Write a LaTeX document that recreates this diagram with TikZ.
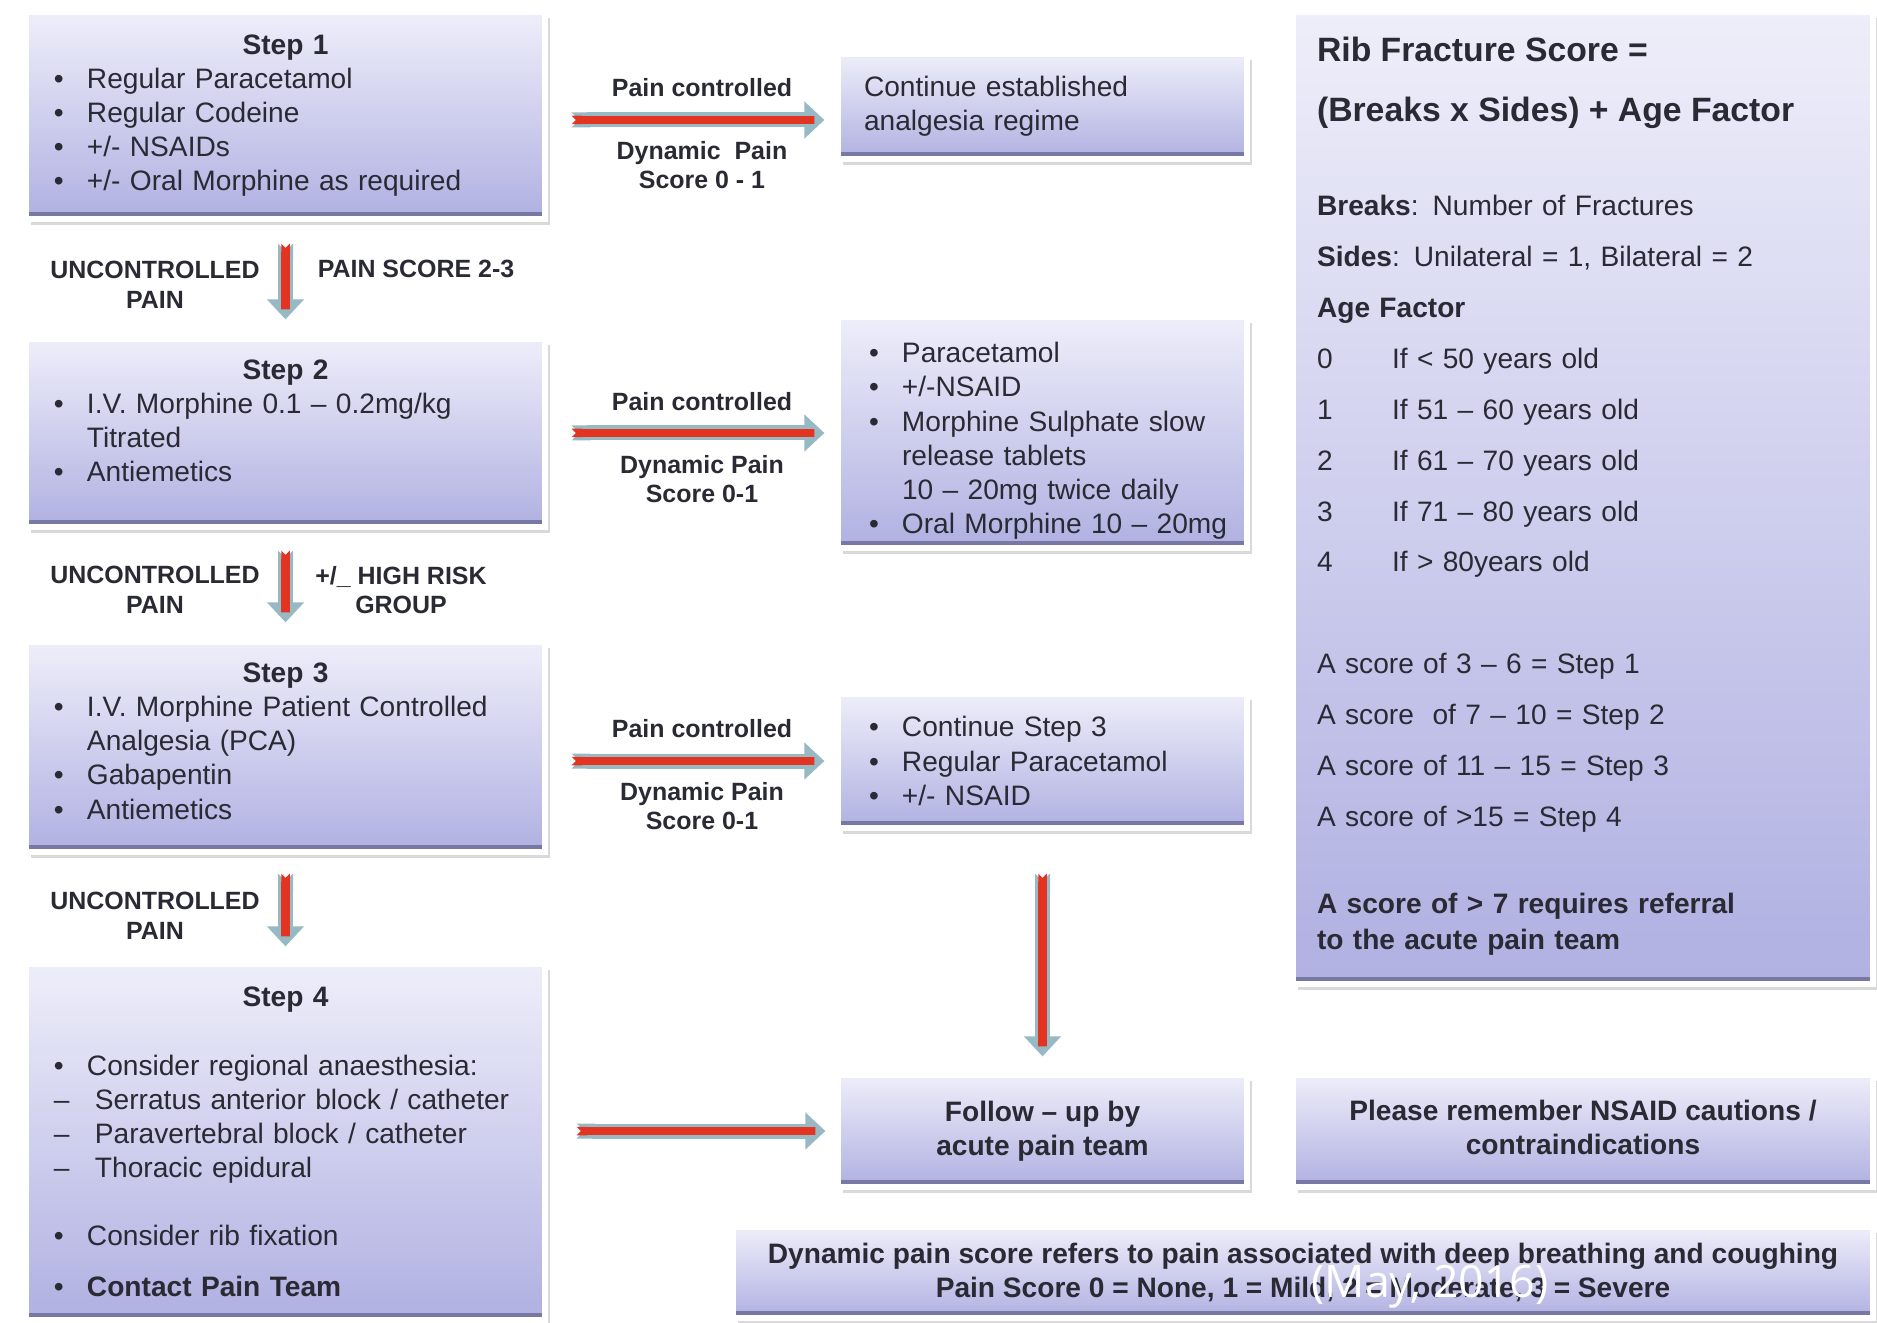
\documentclass[tikz,border=0pt]{standalone}
\usepackage{fontspec}
\setmainfont{Liberation Sans}
\newfontfamily\capfont{Open Sans}
\usetikzlibrary{arrows.meta,shadows}

\definecolor{boxtop}{RGB}{238,238,250}
\definecolor{boxbot}{RGB}{176,176,226}
\definecolor{boxedge}{RGB}{120,120,165}
\definecolor{flowedge}{RGB}{150,185,196}
\definecolor{flowred}{RGB}{226,52,32}
\definecolor{ink}{RGB}{42,42,52}

\newcommand\bodyfont{\fontsize{8}{9.7}\selectfont}
\newcommand\labelfont{\fontsize{7.1}{8.4}\selectfont\bfseries}
\newcommand\ribtitle{\fontsize{9.6}{14.5}\selectfont\bfseries}
\newcommand\bul{\makebox[3.3mm][l]{\textbullet}}
\newcommand\dsh{\makebox[4.1mm][l]{–}}
\newcommand\ind{\hspace*{3.3mm}}
\newcommand\lift[1]{\rule[-#1]{0pt}{#1}}
\newcommand\drop[1]{\rule{0pt}{#1}}
\newcommand\steptitle[1]{\makebox[\hsize]{\bfseries #1}}
\newcommand\agerow[2]{\makebox[7.5mm][l]{#1}#2}

\tikzset{
  box/.style={rectangle, draw=white, line width=1.5pt, text=ink,
    top color=boxtop, bottom color=boxbot,
    drop shadow={shadow xshift=0.5mm, shadow yshift=-0.6mm, opacity=0.3},
    path picture={\fill[boxedge] (path picture bounding box.south west)
      rectangle ([yshift=0.7mm]path picture bounding box.south east);}},
  stepbox/.style={box, font=\bodyfont, align=left, text width=46.3mm,
    inner xsep=2.8mm, inner ysep=0pt},
  midbox/.style={box, font=\bodyfont, align=left, text width=34.7mm,
    inner xsep=3.1mm, inner ysep=0pt},
  boldbox/.style={box, font=\bodyfont\bfseries, align=center, inner sep=0pt},
  flowlabel/.style={font=\labelfont, align=center, text=ink},
  flow/.style={draw=flowedge, line width=1.5mm,
    {Triangle Cap[reversed]}-{Triangle[length=2mm, width=3.6mm]},
    postaction={draw=flowred, line width=0.85mm,
      {Triangle Cap[reversed]}-{Triangle[length=1mm, width=0.9mm, color=flowedge]}}}
}

\begin{document}
\begin{tikzpicture}
\useasboundingbox (0,0) rectangle (18.77,-13.23);

% step boxes
\node[stepbox, minimum height=20.7mm] (s1) at (2.855,-1.155) {\steptitle{Step 1}\\
\bul Regular Paracetamol\\
\bul Regular Codeine\\
\bul +/- NSAIDs\\
\bul +/- Oral Morphine as required};
\node[stepbox, minimum height=18.8mm] (s2) at (2.855,-4.33) {\steptitle{Step 2}\\
\bul I.V. Morphine 0.1 – 0.2mg/kg\\
\ind Titrated\\
\bul Antiemetics\lift{2.4mm}};
\node[stepbox, minimum height=21mm] (s3) at (2.855,-7.47) {\steptitle{Step 3}\\
\bul I.V. Morphine Patient Controlled\\
\ind Analgesia (PCA)\\
\bul Gabapentin\\
\bul Antiemetics\lift{1.2mm}};
\node[stepbox, minimum height=35.6mm] (s4) at (2.855,-11.42) {\steptitle{Step 4}\\[9.7pt]
\bul Consider regional anaesthesia:\\
\dsh Serratus anterior block / catheter\\
\dsh Paravertebral block / catheter\\
\dsh Thoracic epidural\\[9.7pt]
\bul Consider rib fixation\\[4.8pt]
\bul\textbf{Contact Pain Team}};

% outcome boxes
\node[midbox, inner xsep=2.6mm, text width=35.7mm, minimum height=10.5mm] (cont1) at (10.425,-1.065)
  {Continue established\\analgesia regime};
\node[midbox, minimum height=23.1mm] (mid2) at (10.425,-4.325) {\drop{3.7mm}\bul Paracetamol\\
\bul +/-NSAID\\
\bul Morphine Sulphate slow\\
\ind release tablets\\
\ind 10 – 20mg twice daily\\
\bul\mbox{Oral Morphine 10 – 20mg}};
\node[midbox, minimum height=13.4mm] (mid3) at (10.425,-7.61) {\bul Continue Step 3\\
\bul Regular Paracetamol\\
\bul +/- NSAID};
\node[boldbox, minimum width=40.9mm, minimum height=11.2mm] (follow) at (10.425,-11.31)
  {Follow – up by\\acute pain team};

% score box
\node[box, font=\fontsize{8}{14.5}\selectfont, align=left, text width=53.2mm,
  inner xsep=2.4mm, inner ysep=0pt, minimum height=97.2mm] (rib) at (15.83,-4.98) {%
{\ribtitle Rib Fracture Score =}\\[2.6pt]
{\ribtitle (Breaks x Sides) + Age Factor}\\[12.2pt]
\textbf{Breaks}: Number of Fractures\\
\textbf{Sides}: Unilateral = 1, Bilateral = 2\\
\textbf{Age Factor}\\
\agerow{0}{If < 50 years old}\\
\agerow{1}{If 51 – 60 years old}\\
\agerow{2}{If 61 – 70 years old}\\
\agerow{3}{If 71 – 80 years old}\\
\agerow{4}{If > 80years old}\\[14.5pt]
A score of 3 – 6 = Step 1\\
A score\ \ of 7 – 10 = Step 2\\
A score of 11 – 15 = Step 3\\
A score of >15 = Step 4\\[10.3pt]
\textbf{A score of > 7 requires referral}\\[-4.5pt]
\textbf{to the acute pain team}\lift{1mm}};
\node[boldbox, minimum width=58mm, minimum height=11.2mm] (nsaid) at (15.83,-11.31)
  {Please remember NSAID cautions /\\contraindications\lift{0.8mm}};
\node[boldbox, minimum width=114mm, minimum height=9.1mm] (note) at (13.03,-12.725)
  {Dynamic pain score refers to pain associated with deep breathing and coughing\\
   Pain Score 0 = None, 1 = Mild, 2 = Moderate, 3 = Severe};
\node[font=\capfont\fontsize{12.7}{14}\selectfont, text=white] (cite) at (14.30,-12.87) {(May, 2016)};

% connectors
\draw[flow, shorten <=2.4mm, shorten >=1.1mm] ([yshift=-0.45mm]s1.east) -- ([yshift=-0.45mm]s1.east -| cont1.west);
\draw[flow, shorten <=2.4mm, shorten >=1.1mm] (s2.east) -- (s2.east -| mid2.west);
\draw[flow, shorten <=2.4mm, shorten >=1.1mm] (mid3.west -| s3.east) -- (mid3.west);
\draw[flow, shorten <=2.9mm, shorten >=1mm] (follow.west -| s4.east) -- (follow.west);
\draw[flow, shorten <=2.2mm, shorten >=1.7mm] (s1) -- (s2);
\draw[flow, shorten <=2.1mm, shorten >=1.7mm] (s2) -- (s3);
\draw[flow, shorten <=1.9mm, shorten >=1.5mm] (s3) -- (s4);
\draw[flow, shorten <=4.3mm, shorten >=1.6mm] (mid3) -- (follow);

% labels
\foreach \y/\n in {2.85/1, 5.90/2, 9.16/3}
  \node[flowlabel] (u\n) at (1.55,-\y) {UNCONTROLLED\\PAIN};
\node[flowlabel] (ps) at (4.16,-2.69) {PAIN SCORE 2-3};
\node[flowlabel] (hr) at (4.01,-5.90) {+/\_ HIGH RISK\\GROUP};
\foreach \y/\n in {0.88/1, 4.02/2, 7.29/3}
  \node[flowlabel] (pc\n) at (7.02,-\y) {Pain controlled};
\node[flowlabel] (dp1) at (7.02,-1.65) {Dynamic\ \ Pain\\Score 0 - 1};
\node[flowlabel] (dp2) at (7.02,-4.79) {Dynamic Pain\\Score 0-1};
\node[flowlabel] (dp3) at (7.02,-8.06) {Dynamic Pain\\Score 0-1};
\end{tikzpicture}
\end{document}
